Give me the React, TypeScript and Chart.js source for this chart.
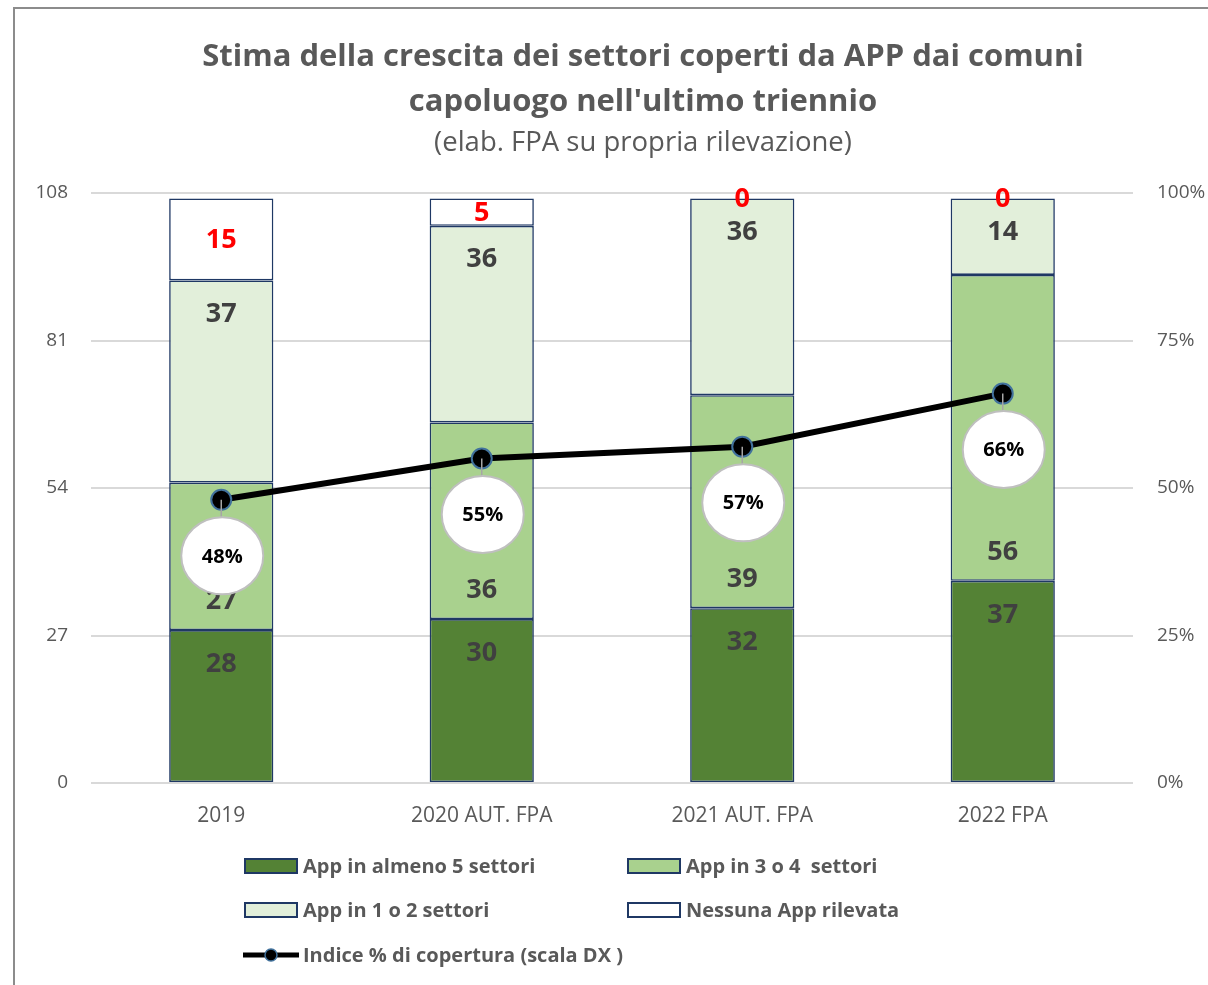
import React, { useEffect, useRef } from "react";
import { Chart, registerables } from "chart.js";

Chart.register(...registerables);

const categories = ["2019", "2020 AUT. FPA", "2021 AUT. FPA", "2022 FPA"];
const almeno5 = [28, 30, 32, 37];
const tre4 = [27, 36, 39, 56];
const uno2 = [37, 36, 36, 14];
const nessuna = [15, 5, 0, 0];
const copertura = [0.48, 0.55, 0.57, 0.66];
const leftTicks = [0, 27, 54, 81, 108];
const rightTicks = [0, 0.25, 0.5, 0.75, 1];

const seriesNames = [
  "App in almeno 5 settori",
  "App in 3 o 4  settori",
  "App in 1 o 2 settori",
  "Nessuna App rilevata",
  "Indice % di copertura (scala DX )",
];
const titleLines = [
  "Stima della crescita dei settori coperti da APP dai comuni",
  "capoluogo nell'ultimo triennio",
];
const subtitle = "(elab. FPA su propria rilevazione)";

const NAVY = "#1f3864";
const FONT = "'Open Sans', sans-serif";
const LEG_FONT = "'Open Sans', sans-serif";

const labelModes = ["end", "start", "end", "center"];

const customPlugin = {
  id: "custom",
  beforeDraw(chart: any) {
    const ctx = chart.ctx;
    ctx.save();
    ctx.fillStyle = "#ffffff";
    ctx.fillRect(0, 0, chart.width, chart.height);
    ctx.strokeStyle = "#8c8c8c";
    ctx.lineWidth = 2;
    ctx.strokeRect(14, 8, 1230, 1000);
    ctx.restore();
  },
  afterDatasetsDraw(chart: any) {
    const ctx = chart.ctx;
    ctx.save();
    ctx.textAlign = "center";
    ctx.textBaseline = "middle";
    ctx.font = `bold 27px ${FONT}`;
    for (let di = 0; di < 4; di++) {
      const meta = chart.getDatasetMeta(di);
      const values = chart.data.datasets[di].data as number[];
      meta.data.forEach((bar: any, i: number) => {
        const p = bar.getProps(["x", "y", "base"], true);
        const top = Math.min(p.y, p.base);
        const bottom = Math.max(p.y, p.base);
        const mode = labelModes[di];
        let ly = (top + bottom) / 2;
        if (mode === "end") ly = top + 33;
        if (mode === "start") ly = bottom - 30;
        ctx.fillStyle = di === 3 ? "#ff0000" : "#404040";
        ctx.fillText(String(values[i]), p.x, ly + 1);
      });
    }
    ctx.restore();
  },
  afterDraw(chart: any) {
    const ctx = chart.ctx;
    ctx.save();
    // line labels
    const meta = chart.getDatasetMeta(4);
    const vals = chart.data.datasets[4].data as number[];
    meta.data.forEach((pt: any, i: number) => {
      const { x, y } = pt.getProps(["x", "y"], true);
      const cx = x + 1;
      const cy = y + 56;
      ctx.beginPath();
      ctx.moveTo(x, y);
      ctx.lineTo(x, cy - 38);
      ctx.strokeStyle = "#a6a6a6";
      ctx.lineWidth = 1.5;
      ctx.stroke();
      ctx.beginPath();
      ctx.ellipse(cx, cy, 41, 38.5, 0, 0, Math.PI * 2);
      ctx.fillStyle = "#ffffff";
      ctx.fill();
      ctx.strokeStyle = "#bfbfbf";
      ctx.lineWidth = 2;
      ctx.stroke();
      ctx.fillStyle = "#000000";
      ctx.font = `bold 20px ${FONT}`;
      ctx.textAlign = "center";
      ctx.textBaseline = "middle";
      ctx.fillText(Math.round(vals[i] * 100) + "%", cx, cy + 1);
    });

    // title
    ctx.fillStyle = "#595959";
    ctx.textAlign = "center";
    ctx.textBaseline = "middle";
    ctx.font = `bold 31px ${FONT}`;
    ctx.fillText(titleLines[0], 643, 57);
    ctx.fillText(titleLines[1], 643, 102);
    ctx.font = `27.5px ${FONT}`;
    ctx.fillText(subtitle, 643, 143);

    // legend
    const ds = chart.data.datasets;
    const items = [
      { d: 0, x: 245, y: 866 },
      { d: 1, x: 628, y: 866 },
      { d: 2, x: 245, y: 910 },
      { d: 3, x: 628, y: 910 },
    ];
    ctx.font = `bold 20px ${LEG_FONT}`;
    ctx.textAlign = "left";
    items.forEach((it) => {
      ctx.fillStyle = ds[it.d].backgroundColor;
      ctx.fillRect(it.x, it.y - 7, 52, 14);
      ctx.strokeStyle = NAVY;
      ctx.lineWidth = 2;
      ctx.strokeRect(it.x, it.y - 7, 52, 14);
      ctx.fillStyle = "#595959";
      ctx.fillText(ds[it.d].label, it.x + 58, it.y + 1);
    });
    const ly = 955;
    ctx.beginPath();
    ctx.moveTo(243, ly);
    ctx.lineTo(299, ly);
    ctx.strokeStyle = "#000000";
    ctx.lineWidth = 5;
    ctx.stroke();
    ctx.beginPath();
    ctx.arc(271, ly, 6, 0, Math.PI * 2);
    ctx.fillStyle = "#000000";
    ctx.fill();
    ctx.strokeStyle = "#41719c";
    ctx.lineWidth = 1.5;
    ctx.stroke();
    ctx.fillStyle = "#595959";
    ctx.fillText(ds[4].label, 303, ly + 1);
    ctx.restore();
  },
};

export default function App() {
  const ref = useRef<HTMLCanvasElement | null>(null);
  useEffect(() => {
    let chart: Chart | null = null;
    let cancelled = false;
    const make = () => {
      if (cancelled || !ref.current) return;
      const barCommon = {
        type: "bar" as const,
        borderColor: NAVY,
        borderWidth: 1.6,
        borderSkipped: false,
        barPercentage: 0.4,
        categoryPercentage: 1,
        yAxisID: "y",
        stack: "s",
        order: 1,
      };
      chart = new Chart(ref.current, {
        type: "bar",
        data: {
          labels: categories,
          datasets: [
            { ...barCommon, label: seriesNames[0], data: almeno5, backgroundColor: "#548235" },
            { ...barCommon, label: seriesNames[1], data: tre4, backgroundColor: "#a9d18e" },
            { ...barCommon, label: seriesNames[2], data: uno2, backgroundColor: "#e2efda" },
            { ...barCommon, label: seriesNames[3], data: nessuna, backgroundColor: "#ffffff" },
            {
              type: "line",
              label: seriesNames[4],
              data: copertura,
              yAxisID: "y1",
              borderColor: "#000000",
              borderWidth: 6,
              backgroundColor: "#000000",
              pointBackgroundColor: "#000000",
              pointBorderColor: "#41719c",
              pointBorderWidth: 2,
              pointRadius: 10,
              tension: 0,
              order: 0,
            } as any,
          ],
        },
        options: {
          responsive: false,
          animation: false,
          devicePixelRatio: 1,
          layout: { padding: { left: 14, right: 0, top: 193, bottom: 0 } },
          plugins: {
            legend: { display: false },
            title: { display: false },
            tooltip: { enabled: false },
          },
          scales: {
            x: {
              stacked: true,
              grid: { display: false },
              border: { display: false },
              ticks: {
                color: "#595959",
                font: { family: "'Open Sans'", size: 21 },
                padding: 12,
              },
              afterFit: (s: any) => {
                s.height = 202;
              },
            },
            y: {
              stacked: true,
              min: 0,
              max: 108,
              afterBuildTicks: (s: any) => {
                s.ticks = leftTicks.map((v) => ({ value: v }));
              },
              grid: { color: "#d9d9d9", lineWidth: 2, drawTicks: false },
              border: { display: false },
              ticks: {
                color: "#595959",
                font: { family: "'Open Sans'", size: 19 },
                padding: 23,
              },
              afterFit: (s: any) => {
                s.width = 77;
              },
            },
            y1: {
              position: "right",
              min: 0,
              max: 1,
              afterBuildTicks: (s: any) => {
                s.ticks = rightTicks.map((v) => ({ value: v }));
              },
              grid: { display: false, drawTicks: false },
              border: { display: false },
              ticks: {
                color: "#595959",
                font: { family: "'Open Sans'", size: 19 },
                padding: 24,
                callback: (v: any) => Math.round(Number(v) * 100) + "%",
              },
              afterFit: (s: any) => {
                s.width = 75;
              },
            },
          },
        },
        plugins: [customPlugin],
      });
    };
    const fonts = ['bold 20px "Open Sans"', '20px "Open Sans"'];
    Promise.all(fonts.map((f) => document.fonts.load(f).catch(() => null)))
      .then(make, make);
    return () => {
      cancelled = true;
      if (chart) chart.destroy();
    };
  }, []);
  return (
    <div style={{ position: "absolute", left: 0, top: 0, width: 1208, height: 985 }}>
      <canvas ref={ref} width={1208} height={985} style={{ display: "block" }} />
    </div>
  );
}
